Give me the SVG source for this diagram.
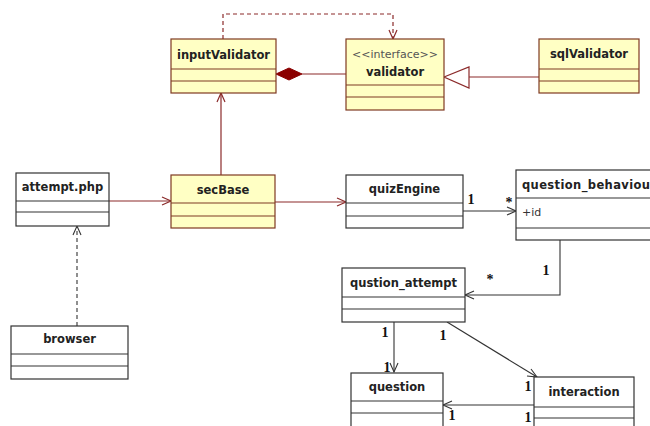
<svg xmlns="http://www.w3.org/2000/svg" width="650" height="426" viewBox="0 0 650 426">
<style>
.y{fill:#ffffc4;stroke:#7f3a22;stroke-width:1.2}
.w{fill:#ffffff;stroke:#333;stroke-width:1.2}
.dy{stroke:#7f3a22;stroke-width:1.2}
.dw{stroke:#333;stroke-width:1.2}
.t{font-family:"DejaVu Sans",Verdana,sans-serif;font-weight:bold;font-size:11.5px;fill:#222;text-anchor:middle}
.s{font-family:"DejaVu Sans",Verdana,sans-serif;font-size:11px;fill:#555;text-anchor:middle}
.a{font-family:"DejaVu Sans",Verdana,sans-serif;font-size:11px;fill:#333}
.m{font-family:"Liberation Serif","Times New Roman",serif;font-weight:bold;font-size:14px;fill:#111;text-anchor:middle}
.cr{fill:none;stroke:#8b2a2a;stroke-width:1.2}
.cb{fill:none;stroke:#333;stroke-width:1.1}
</style>
<rect width="650" height="426" fill="#ffffff"/>
<g id="connectors">
  <polyline class="cr" points="223,39 223,14 393,14 393,38" stroke-dasharray="4,3"/>
  <polyline class="cr" points="389,30 393,39 397,30"/>
  <line class="cr" x1="302" y1="74" x2="346" y2="74"/>
  <polygon points="276,74 289,68 302,74 289,80" fill="#8b0000" stroke="#8b0000"/>
  <line class="cr" x1="469" y1="77" x2="539" y2="77"/>
  <polygon points="444,77 469,67 469,88" fill="#ffffff" stroke="#8b2a2a" stroke-width="1.2"/>
  <line class="cr" x1="221" y1="175" x2="221" y2="93"/>
  <polyline class="cr" points="217,102 221,93 225,102"/>
  <line class="cr" x1="109" y1="201" x2="171" y2="201"/>
  <polyline class="cr" points="162,197 171,201 162,205"/>
  <line class="cr" x1="275" y1="202" x2="346" y2="202"/>
  <polyline class="cr" points="337,198 346,202 337,206"/>
  <line class="cb" x1="77" y1="326" x2="77" y2="227" stroke-dasharray="4,3"/>
  <polyline class="cb" points="73,235 77,226 81,235"/>
  <line class="cb" x1="463" y1="211" x2="516" y2="211"/>
  <polyline class="cb" points="507,207 516,211 507,215"/>
  <polyline class="cb" points="560,240 560,295 465,295"/>
  <polyline class="cb" points="474,291 465,295 474,299"/>
  <line class="cb" x1="394" y1="322" x2="394" y2="372"/>
  <polyline class="cb" points="390,363 394,372 398,363"/>
  <line class="cb" x1="447" y1="322" x2="537" y2="377"/>
  <polyline class="cb" points="527,376 537,377 531,369"/>
  <line class="cb" x1="534" y1="405" x2="443" y2="405"/>
  <polyline class="cb" points="452,401 443,405 452,409"/>
  <text class="m" x="471" y="204">1</text>
  <text class="m" x="509" y="207">*</text>
  <text class="m" x="546" y="275">1</text>
  <text class="m" x="490" y="284">*</text>
  <text class="m" x="385" y="337">1</text>
  <text class="m" x="443" y="340">1</text>
  <text class="m" x="387" y="372">1</text>
  <text class="m" x="528" y="391">1</text>
  <text class="m" x="452" y="420">1</text>
  <text class="m" x="528" y="422">1</text>
</g>
<g id="inputValidator">
  <rect class="y" x="171" y="39" width="105" height="54"/>
  <line class="dy" x1="171" y1="69" x2="276" y2="69"/>
  <line class="dy" x1="171" y1="81" x2="276" y2="81"/>
  <text class="t" x="223.5" y="59">inputValidator</text>
</g>
<g id="validator">
  <rect class="y" x="346" y="39" width="98" height="71"/>
  <line class="dy" x1="346" y1="85" x2="444" y2="85"/>
  <line class="dy" x1="346" y1="97" x2="444" y2="97"/>
  <text class="s" x="395" y="58">&lt;&lt;interface&gt;&gt;</text>
  <text class="t" x="395" y="76">validator</text>
</g>
<g id="sqlValidator">
  <rect class="y" x="539" y="39" width="100" height="54"/>
  <line class="dy" x1="539" y1="69" x2="639" y2="69"/>
  <line class="dy" x1="539" y1="81" x2="639" y2="81"/>
  <text class="t" x="589" y="58">sqlValidator</text>
</g>
<g id="attempt_php">
  <rect class="w" x="16" y="173" width="93" height="53"/>
  <line class="dw" x1="16" y1="201" x2="109" y2="201"/>
  <line class="dw" x1="16" y1="212" x2="109" y2="212"/>
  <text class="t" x="62.5" y="191">attempt.php</text>
</g>
<g id="secBase">
  <rect class="y" x="171" y="175" width="104" height="53"/>
  <line class="dy" x1="171" y1="203" x2="275" y2="203"/>
  <line class="dy" x1="171" y1="216" x2="275" y2="216"/>
  <text class="t" x="223" y="194">secBase</text>
</g>
<g id="quizEngine">
  <rect class="w" x="346" y="175" width="117" height="53"/>
  <line class="dw" x1="346" y1="203" x2="463" y2="203"/>
  <line class="dw" x1="346" y1="216" x2="463" y2="216"/>
  <text class="t" x="404.5" y="193">quizEngine</text>
</g>
<g id="question_behaviour">
  <rect class="w" x="516" y="170" width="150" height="70"/>
  <line class="dw" x1="516" y1="198" x2="666" y2="198"/>
  <line class="dw" x1="516" y1="228" x2="666" y2="228"/>
  <text class="t" x="522" y="189" style="text-anchor:start" textLength="134" lengthAdjust="spacing">question_behaviour</text>
  <text class="a" x="522" y="216">+id</text>
</g>
<g id="browser">
  <rect class="w" x="11" y="326" width="117" height="53"/>
  <line class="dw" x1="11" y1="354" x2="128" y2="354"/>
  <line class="dw" x1="11" y1="366" x2="128" y2="366"/>
  <text class="t" x="69.5" y="343">browser</text>
</g>
<g id="qustion_attempt">
  <rect class="w" x="342" y="268" width="123" height="54"/>
  <line class="dw" x1="342" y1="297" x2="465" y2="297"/>
  <line class="dw" x1="342" y1="309" x2="465" y2="309"/>
  <text class="t" x="403.5" y="287">qustion_attempt</text>
</g>
<g id="question">
  <rect class="w" x="351" y="373" width="92" height="60"/>
  <line class="dw" x1="351" y1="401" x2="443" y2="401"/>
  <line class="dw" x1="351" y1="413" x2="443" y2="413"/>
  <text class="t" x="397" y="391">question</text>
</g>
<g id="interaction">
  <rect class="w" x="534" y="377" width="100" height="60"/>
  <line class="dw" x1="534" y1="407" x2="634" y2="407"/>
  <line class="dw" x1="534" y1="418" x2="634" y2="418"/>
  <text class="t" x="584" y="396">interaction</text>
</g>
</svg>
